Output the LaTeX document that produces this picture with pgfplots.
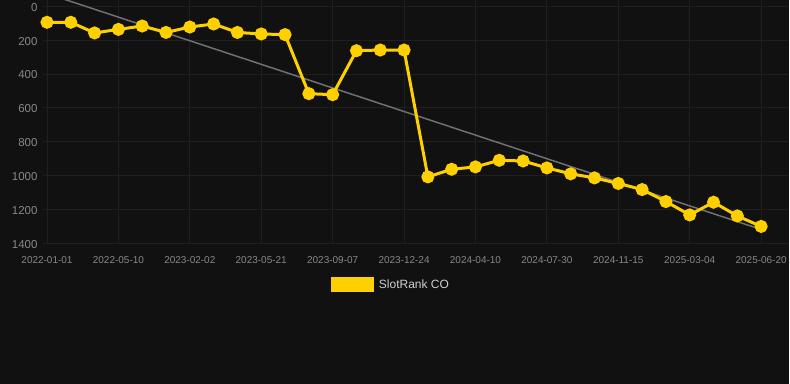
\documentclass[border=0pt]{standalone}
\usepackage{fontspec}
\setmainfont{Liberation Sans}
\usepackage{pgfplots}
\pgfplotsset{compat=1.18}
\definecolor{bgc}{HTML}{111111}
\definecolor{gridc}{HTML}{1F1F1F}
\definecolor{tickc}{HTML}{888888}
\definecolor{legc}{HTML}{D0D0D0}
\definecolor{yel}{HTML}{FFD000}
\definecolor{trendc}{HTML}{707070}
\begin{document}
\begin{tikzpicture}[x=1pt,y=1pt]
\fill[bgc] (0,0) rectangle (790,384);
\begin{axis}[
  at={(43pt,141pt)}, anchor=south west,
  scale only axis, width=747pt, height=243pt,
  xmin=-0.17, xmax=31.17,
  ymin=-35, ymax=1400,
  y dir=reverse,
  axis line style={draw=none},
  major tick length=0pt,
  grid=major,
  major grid style={gridc, line width=0.9pt},
  xtick={0,3,...,30},
  xticklabels={2022-01-01,2022-05-10,2023-02-02,2023-05-21,2023-09-07,2023-12-24,2024-04-10,2024-07-30,2024-11-15,2025-03-04,2025-06-20},
  ytick={0,200,...,1400},
  /pgf/number format/assume math mode=true,
  /pgf/number format/1000 sep={},
  xticklabel style={font=\fontsize{10}{12}\selectfont, text=tickc, yshift=-10pt},
  yticklabel style={font=\fontsize{11.5}{13}\selectfont, text=tickc, xshift=-2pt, yshift=-1pt},
  legend style={at={(0.4665,-0.1707)}, anchor=center, draw=none, fill=none,
     text=legc, font=\fontsize{12}{14}\selectfont,
     /tikz/every odd column/.append style={column sep=3pt}},
  legend image code/.code={\fill[yel] (0pt,-6pt) rectangle (40pt,6pt);},
]
\addplot[trendc, line width=1.5pt, forget plot] coordinates {(0,-76) (30,1319)};
\addplot[yel, line width=3pt, mark=*, mark size=5pt, mark options={fill=yel, draw=none}] coordinates {
(0,94) (1,94) (2,157) (3,136) (4,116) (5,154) (6,122) (7,104) (8,154) (9,163)
(10,167) (11,516) (12,522) (13,262) (14,258) (15,258) (16,1008) (17,963) (18,949) (19,910)
(20,914) (21,955) (22,990) (23,1014) (24,1047) (25,1083) (26,1154) (27,1233) (28,1158) (29,1239) (30,1301)
};
\addlegendentry{SlotRank CO}
\end{axis}
\end{tikzpicture}
\end{document}
